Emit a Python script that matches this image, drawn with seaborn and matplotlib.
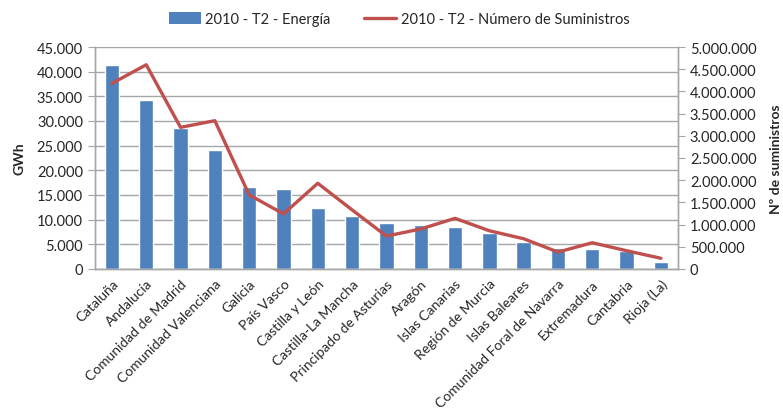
import matplotlib.pyplot as plt
import seaborn as sns
import numpy as np
from matplotlib.ticker import FuncFormatter, FixedLocator
from matplotlib.lines import Line2D
from matplotlib.patches import Patch

regiones = ["Cataluña", "Andalucía", "Comunidad de Madrid", "Comunidad Valenciana",
            "Galicia", "País Vasco", "Castilla y León", "Castilla-La Mancha",
            "Principado de Asturias", "Aragón", "Islas Canarias", "Región de Murcia",
            "Islas Baleares", "Comunidad Foral de Navarra", "Extremadura", "Cantabria",
            "Rioja (La)"]
energia = [41400, 34300, 28500, 24100, 16700, 16200, 12400, 10750, 9350,
           8850, 8450, 7250, 5400, 4250, 4050, 3600, 1500]
suministros = [4180000, 4600000, 3190000, 3340000, 1670000, 1240000, 1930000,
               1330000, 740000, 900000, 1140000, 860000, 680000, 380000,
               590000, 410000, 240000]

sns.set_style("white")
plt.rcParams['font.family'] = ['Lato', 'DejaVu Sans']

azul = "#4F81BD"
rojo = "#C0504D"
gris = "#A6A6A6"

def miles(v, pos):
    return f"{int(v):,}".replace(",", ".")

fig = plt.figure(figsize=(7.83, 4.14), dpi=100)
ax = fig.add_axes([0.121, 0.348, 0.745, 0.536])

sns.barplot(x=regiones, y=energia, color=azul, width=0.42, saturation=1, ax=ax)
ax.set_ylim(0, 45000)
ax.set_xlim(-0.5, len(regiones) - 0.5)
ax.yaxis.set_major_locator(FixedLocator(np.arange(0, 45001, 5000)))
ax.yaxis.set_major_formatter(FuncFormatter(miles))
ax.yaxis.grid(True, color=gris, linewidth=1)
ax.set_axisbelow(True)

ax2 = ax.twinx()
sns.lineplot(x=np.arange(len(regiones)), y=suministros, color=rojo, linewidth=2.4, ax=ax2)
ax2.set_ylim(0, 5000000)
ax2.yaxis.set_major_locator(FixedLocator(np.arange(0, 5000001, 500000)))
ax2.yaxis.set_major_formatter(FuncFormatter(miles))

# ticks on x sit between categories
ax.set_xticks(np.arange(len(regiones)))
ax.set_xticklabels(regiones, rotation=45, ha="right", rotation_mode="anchor", fontsize=10)
ax.set_xticks(np.arange(-0.5, len(regiones)), minor=True)
ax.tick_params(axis="x", which="major", length=0, pad=6)
ax.tick_params(axis="x", which="minor", length=5, color=gris, direction="out")
ax.tick_params(axis="y", length=5, color=gris, labelsize=10.5, direction="out")
ax2.tick_params(axis="y", length=5, color=gris, labelsize=10.5, direction="out")

for a in (ax, ax2):
    a.spines["top"].set_visible(False)
    for s in ["left", "right", "bottom"]:
        a.spines[s].set_color(gris)
        a.spines[s].set_linewidth(1)

ax.set_ylabel("GWh", fontweight="bold", fontsize=10, labelpad=8)
ax2.set_ylabel("Nº de suministros", fontweight="bold", fontsize=10, labelpad=10)
ax.set_xlabel("")

handles = [Patch(facecolor=azul, edgecolor="none"),
           Line2D([0], [0], color=rojo, linewidth=2.4)]
fig.legend(handles, ["2010 - T2 - Energía", "2010 - T2 - Número de Suministros"],
           loc="upper center", bbox_to_anchor=(0.51, 1.0), ncol=2, frameon=False,
           fontsize=10.5, handlelength=2.2, handleheight=0.8, handletextpad=0.3,
           columnspacing=2.3)

fig.savefig("out.png", dpi=100)
